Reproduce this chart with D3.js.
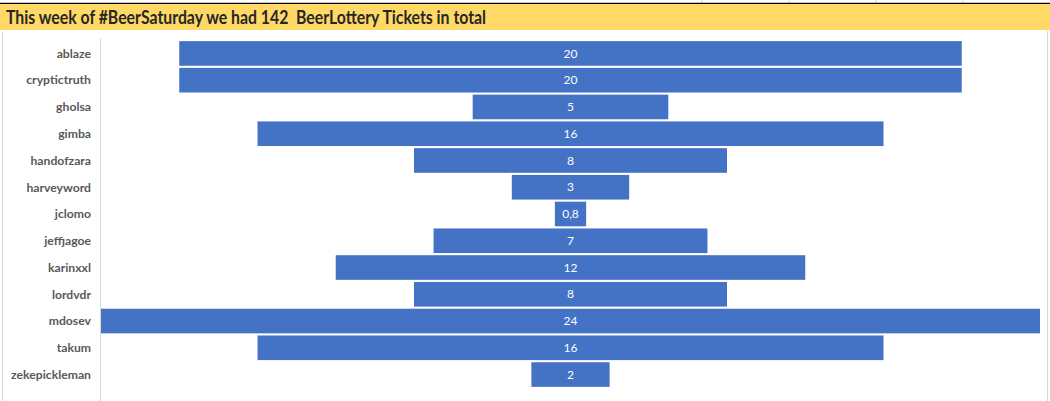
<!DOCTYPE html>
<html>
<head>
<meta charset="utf-8">
<script src="https://cdn.jsdelivr.net/npm/d3@7"></script>
<style>
  body { margin: 0; background: #fff; }
  svg { display: block; }
</style>
</head>
<body>
<div id="vis"></div>
<script>
// chart values
var names = ['ablaze', 'cryptictruth', 'gholsa', 'gimba', 'handofzara', 'harveyword',
	'jclomo', 'jeffjagoe', 'karinxxl', 'lordvdr', 'mdosev', 'takum', 'zekepickleman'];
var tickets = [20, 20, 5, 16, 8, 3, 0.8, 7, 12, 8, 24, 16, 2];
var labels = ['20', '20', '5', '16', '8', '3', '0,8', '7', '12', '8', '24', '16', '2'];
var title = 'This week of #BeerSaturday we had 142  BeerLottery Tickets in total';

var width = 1050, height = 401;
var font = 'Lato, "Open Sans", sans-serif';

var svg = d3.select('#vis')
	.append('svg')
	.attr('width', width)
	.attr('height', height);

// spreadsheet bits round the chart
var topCols = [702, 789, 876, 963];
svg.selectAll('.col')
	.data(topCols)
	.enter()
	.append('line')
	.attr('x1', function(d) { return d; })
	.attr('x2', function(d) { return d; })
	.attr('y1', 0)
	.attr('y2', 3)
	.style('stroke', '#d4d4d4');
svg.append('line')
	.attr('x1', 0).attr('x2', width)
	.attr('y1', 3.5).attr('y2', 3.5)
	.style('stroke', '#000')
	.style('stroke-width', 1.5);

// title band
svg.append('rect')
	.attr('x', 0).attr('y', 4)
	.attr('width', width).attr('height', 26)
	.style('fill', '#FFD966');
svg.append('text')
	.attr('x', 6)
	.attr('y', 24)
	.attr('textLength', 480)
	.attr('lengthAdjust', 'spacingAndGlyphs')
	.style('font-family', font)
	.style('font-weight', 'bold')
	.style('font-size', '18px')
	.style('fill', '#262626')
	.style('white-space', 'pre')
	.text(title);

// chart frame
svg.append('line')
	.attr('x1', 2.5).attr('x2', 2.5)
	.attr('y1', 31).attr('y2', height)
	.style('stroke', '#d9d9d9');
svg.append('line')
	.attr('x1', 1047.5).attr('x2', 1047.5)
	.attr('y1', 31).attr('y2', height)
	.style('stroke', '#d9d9d9');

var left = 101, right = 1040;
var maxVal = d3.max(tickets);
var x = d3.scaleLinear()
	.domain([-maxVal / 2, maxVal / 2])
	.range([left, right]);

var y = d3.scaleBand()
	.domain(names)
	.range([39, 389])
	.padding(0.08);

// category axis line
svg.append('line')
	.attr('x1', 100.5).attr('x2', 100.5)
	.attr('y1', 38).attr('y2', height)
	.style('stroke', '#d9d9d9');

var rows = svg.append('g')
	.selectAll('.row')
	.data(names)
	.enter()
	.append('g')
	.attr('class', 'row');

rows.append('rect')
	.attr('x', function(d, i) { return x(-tickets[i] / 2); })
	.attr('y', function(d) { return y(d); })
	.attr('width', function(d, i) { return x(tickets[i] / 2) - x(-tickets[i] / 2); })
	.attr('height', y.bandwidth())
	.style('fill', '#4472C4');

rows.append('text')
	.attr('x', x(0))
	.attr('y', function(d) { return y(d) + y.bandwidth() / 2; })
	.attr('dy', '.35em')
	.attr('text-anchor', 'middle')
	.style('font-family', font)
	.style('font-size', '12px')
	.style('fill', '#fff')
	.text(function(d, i) { return labels[i]; });

rows.append('text')
	.attr('x', 91)
	.attr('y', function(d) { return y(d) + y.bandwidth() / 2; })
	.attr('dy', '.35em')
	.attr('text-anchor', 'end')
	.style('font-family', font)
	.style('font-weight', 'bold')
	.style('font-size', '12.2px')
	.style('fill', '#595959')
	.text(function(d) { return d; });
</script>
</body>
</html>
